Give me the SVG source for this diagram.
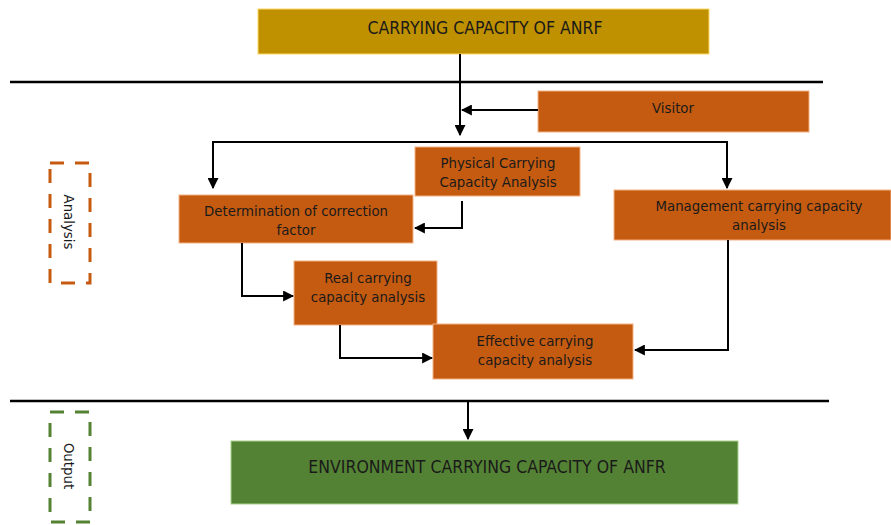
<svg xmlns="http://www.w3.org/2000/svg" width="891" height="525" viewBox="0 0 891 525">
<style>
.box{fill:#C55A11;stroke:#F4B183;stroke-width:1}
.t{font-family:"DejaVu Sans Condensed","DejaVu Sans",sans-serif;font-size:14.8px;fill:#1a1a1a;text-anchor:middle}
.cap{font-size:17.5px}
.c{fill:none;stroke:#000;stroke-width:2}
.sep{stroke:#000;stroke-width:2.5}
</style>
<defs>
<marker id="ah" viewBox="0 0 10 10" refX="9" refY="5" markerWidth="5.5" markerHeight="5.5" orient="auto" markerUnits="strokeWidth">
<path d="M0,0 L10,5 L0,10 z" fill="#000"/>
</marker>
</defs>
<rect width="891" height="525" fill="#fff"/>
<g id="separators">
<line class="sep" x1="10" y1="82" x2="823" y2="82"/>
<line class="sep" x1="10" y1="401" x2="829" y2="401"/>
</g>
<g id="analysis-label">
<rect x="50" y="163" width="40" height="120" fill="none" stroke="#C55A11" stroke-width="3" stroke-dasharray="14,11"/>
<text class="t" transform="translate(64,222) rotate(90)">Analysis</text>
</g>
<g id="output-label">
<rect x="50" y="412" width="40" height="110" fill="none" stroke="#548235" stroke-width="3" stroke-dasharray="14,11"/>
<text class="t" transform="translate(64,466) rotate(90)">Output</text>
</g>
<g id="top">
<rect x="258" y="9" width="451" height="45" fill="#BF9000" stroke="#FFD966" stroke-width="1"/>
<text class="t cap" x="485" y="34">CARRYING CAPACITY OF ANRF</text>
</g>
<g id="visitor">
<rect class="box" x="538" y="91" width="271" height="41"/>
<text class="t" x="673" y="113">Visitor</text>
</g>
<g id="physical">
<rect class="box" x="415" y="147" width="165" height="49"/>
<text class="t" x="498" y="168">Physical Carrying</text>
<text class="t" x="498" y="187">Capacity Analysis</text>
</g>
<g id="determination">
<rect class="box" x="179" y="195" width="234" height="48"/>
<text class="t" x="296" y="216">Determination of correction</text>
<text class="t" x="296" y="235">factor</text>
</g>
<g id="management">
<rect class="box" x="614" y="190" width="277" height="50"/>
<text class="t" x="759" y="211">Management carrying capacity</text>
<text class="t" x="759" y="230">analysis</text>
</g>
<g id="real">
<rect class="box" x="294" y="261" width="143" height="64"/>
<text class="t" x="368" y="283">Real carrying</text>
<text class="t" x="368" y="302">capacity analysis</text>
</g>
<g id="effective">
<rect class="box" x="433" y="324" width="200" height="55"/>
<text class="t" x="535" y="346">Effective carrying</text>
<text class="t" x="535" y="365">capacity analysis</text>
</g>
<g id="environment">
<rect x="231" y="441" width="507" height="63" fill="#548235" stroke="#A9D18E" stroke-width="1"/>
<text class="t cap" x="487" y="473">ENVIRONMENT CARRYING CAPACITY OF ANFR</text>
</g>
<g id="connectors">
<path class="c" d="M460,54 V135" marker-end="url(#ah)"/>
<path class="c" d="M538,110 H462" marker-end="url(#ah)"/>
<path class="c" d="M213,188 V142 H727 V188"/>
<path class="c" d="M213,150 V188" marker-end="url(#ah)"/>
<path class="c" d="M727,150 V188" marker-end="url(#ah)"/>
<path class="c" d="M462,201 V228 H415" marker-end="url(#ah)"/>
<path class="c" d="M242,243 V296 H293" marker-end="url(#ah)"/>
<path class="c" d="M340,325 V358 H432" marker-end="url(#ah)"/>
<path class="c" d="M728,240 V350 H635" marker-end="url(#ah)"/>
<path class="c" d="M468,401 V439" marker-end="url(#ah)"/>
</g>
</svg>
